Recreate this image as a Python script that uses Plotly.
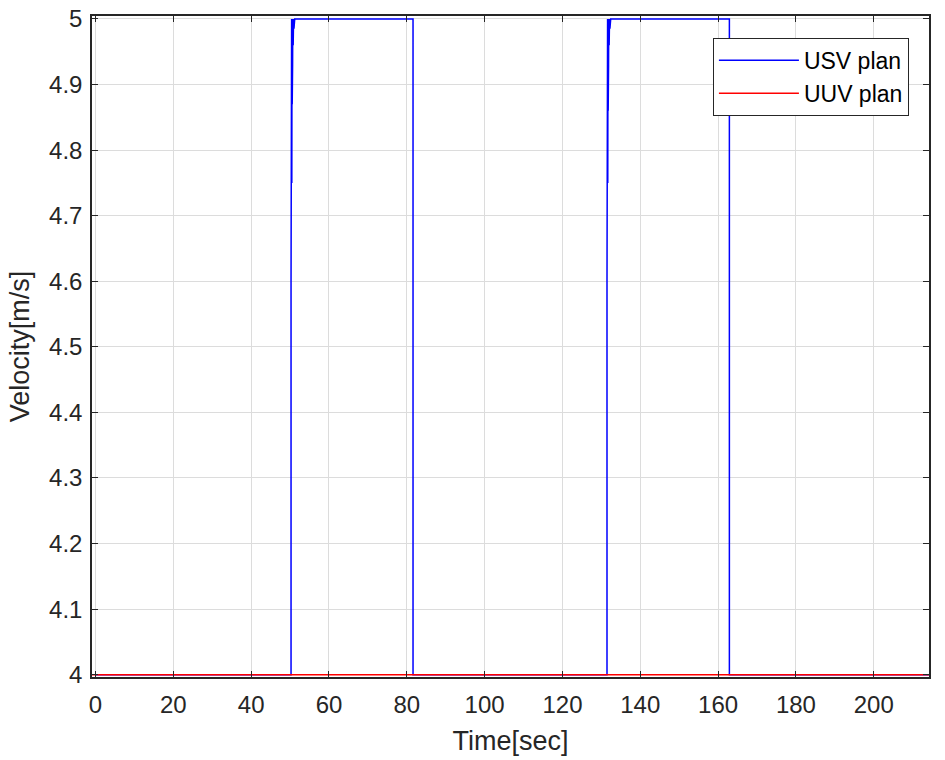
import plotly.graph_objects as go

# USV plan velocity (time in s, velocity in m/s)
usv_t = [0, 50.25, 50.25, 50.3, 50.35, 50.4, 50.45, 50.5, 50.55, 50.6, 50.65, 50.7, 50.8, 50.9, 51.0, 51.2, 51.4,
         81.6, 81.6,
         131.45, 131.45, 131.5, 131.55, 131.6, 131.65, 131.7, 131.75, 131.8, 131.85, 131.9, 132.0, 132.1, 132.2, 132.4, 132.6,
         162.9, 162.9, 214.3]
usv_v = [4.0, 4.0, 4.6, 5.0, 4.62, 5.0, 4.75, 5.0, 4.87, 5.0, 4.93, 5.0, 4.96, 5.0, 4.985, 5.0, 5.0,
         5.0, 4.0,
         4.0, 4.6, 5.0, 4.62, 5.0, 4.75, 5.0, 4.86, 5.0, 4.93, 5.0, 4.96, 5.0, 4.985, 5.0, 5.0,
         5.0, 4.0, 4.0]

# UUV plan velocity
uuv_t = [-1, 214.3]
uuv_v = [4.0, 4.0]

x_ticks = [0, 20, 40, 60, 80, 100, 120, 140, 160, 180, 200]
y_ticks = [4, 4.1, 4.2, 4.3, 4.4, 4.5, 4.6, 4.7, 4.8, 4.9, 5]
y_tick_text = ["4", "4.1", "4.2", "4.3", "4.4", "4.5", "4.6", "4.7", "4.8", "4.9", "5"]

font_family = "Liberation Sans, Arial, Helvetica, sans-serif"

fig = go.Figure()
fig.add_trace(go.Scatter(x=usv_t, y=usv_v, mode="lines", name="USV plan",
                         line=dict(color="#0000FF", width=1.5)))
fig.add_trace(go.Scatter(x=uuv_t, y=uuv_v, mode="lines", name="UUV plan",
                         line=dict(color="#FF0000", width=1.5)))

axis_common = dict(
    showline=True, linecolor="#262626", linewidth=1.5, mirror="allticks",
    ticks="inside", ticklen=6, tickwidth=1.2, tickcolor="#262626",
    showgrid=True, gridcolor="#DCDCDC", gridwidth=1, zeroline=False,
    tickfont=dict(family=font_family, size=24, color="#262626"),
    automargin=False, ticklabeloverflow="allow",
)

fig.update_layout(
    width=945, height=760,
    margin=dict(l=92, r=16, t=16, b=83),
    paper_bgcolor="white", plot_bgcolor="white",
    font=dict(family=font_family, color="#262626"),
    showlegend=True,
    legend=dict(x=0.976, y=0.967, xanchor="right", yanchor="top",
                bgcolor="white", bordercolor="#262626", borderwidth=1,
                font=dict(family=font_family, size=23, color="black"),
                itemwidth=80, tracegroupgap=0),
    xaxis=dict(range=[-0.9, 214.2], tickvals=x_ticks, ticklabelstandoff=5,
               title=dict(text="Time[sec]", font=dict(family=font_family, size=27, color="#262626"), standoff=15),
               **axis_common),
    yaxis=dict(range=[3.9965, 5.0045], tickvals=y_ticks, ticktext=y_tick_text, ticklabelstandoff=3,
               title=dict(text="Velocity[m/s]", font=dict(family=font_family, size=27, color="#262626"), standoff=12),
               **axis_common),
)

fig.write_html("out.html", config={"displayModeBar": False},
               post_script="document.body.style.margin='0';")
